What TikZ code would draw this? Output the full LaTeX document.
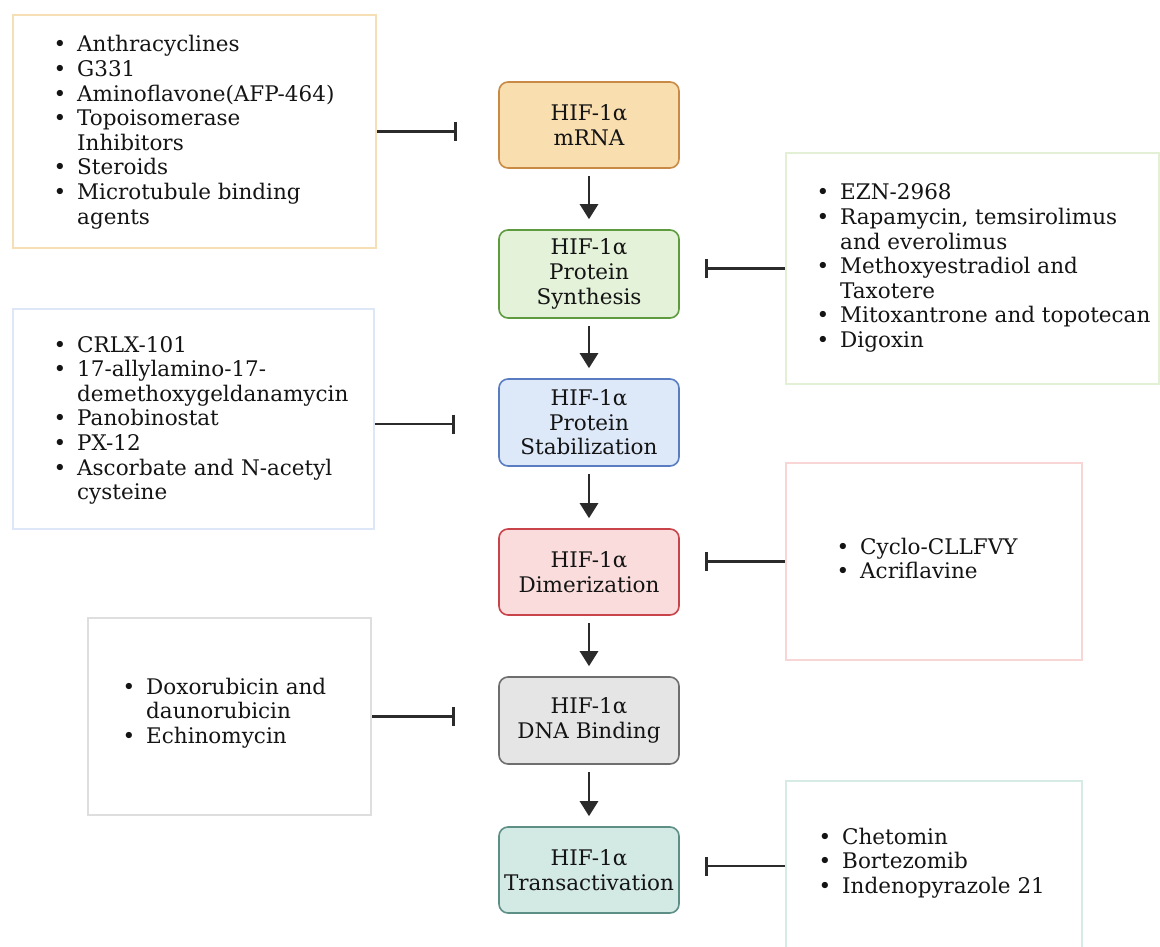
\documentclass[tikz,border=0pt]{standalone}
\usepackage{fontspec}
\setmainfont{DejaVu Serif}
\usetikzlibrary{arrows.meta}
\definecolor{cOrF}{HTML}{F9DEB0}\definecolor{cOrD}{HTML}{C98A45}\definecolor{cOrL}{HTML}{F6DFB5}
\definecolor{cGrF}{HTML}{E4F2D9}\definecolor{cGrD}{HTML}{5E9B3F}\definecolor{cGrL}{HTML}{E3F0D6}
\definecolor{cBlF}{HTML}{DDE8F9}\definecolor{cBlD}{HTML}{5A7DC2}\definecolor{cBlL}{HTML}{DDE7F8}
\definecolor{cRdF}{HTML}{FADCDC}\definecolor{cRdD}{HTML}{C9434A}\definecolor{cRdL}{HTML}{F8D6D6}
\definecolor{cGyF}{HTML}{E5E5E5}\definecolor{cGyD}{HTML}{6E6E6E}\definecolor{cGyL}{HTML}{DEDEDE}
\definecolor{cTlF}{HTML}{D3E9E4}\definecolor{cTlD}{HTML}{5E8F87}\definecolor{cTlL}{HTML}{D6EAE6}
\definecolor{ink}{HTML}{141414}
\definecolor{conn}{HTML}{2B2B2B}
\newcommand\bu{\llap{\textbullet\hspace{11pt}}}
\newcommand\fs{\fontsize{21.5}{24.6}\selectfont}
\begin{document}
\begin{tikzpicture}[x=1pt,y=-1pt,
  stage/.style={draw, line width=1.6pt, rounded corners=9pt, minimum width=180pt,
    align=center, font=\fs, inner sep=0pt, text=ink},
  drug/.style={draw, line width=2pt, fill=white, inner sep=0pt},
  lst/.style={anchor=base west, inner sep=0pt, font=\fs, text=ink},
  flow/.style={draw=conn, line width=2.6pt, -{Triangle[width=18pt,length=15pt]},
    shorten <=7pt, shorten >=10pt},
  inh/.style={draw=conn, line width=2.6pt, -{Bar[width=19pt,line width=2.6pt]}}]
\useasboundingbox (0,0) rectangle (1160,947);
\clip (0,0) rectangle (1160,947);
\fill[white] (0,0) rectangle (1160,947);

% stages
\node[stage, fill=cOrF, draw=cOrD, minimum height=86pt] (m)  at (589,125)   {HIF-1α\\mRNA};
\node[stage, fill=cGrF, draw=cGrD, minimum height=88pt] (s)  at (589,274)   {HIF-1α\\Protein\\Synthesis};
\node[stage, fill=cBlF, draw=cBlD, minimum height=87pt] (st) at (589,422.5) {HIF-1α\\Protein\\Stabilization};
\node[stage, fill=cRdF, draw=cRdD, minimum height=86pt] (d)  at (589,572)   {HIF-1α\\Dimerization};
\node[stage, fill=cGyF, draw=cGyD, minimum height=87pt] (b)  at (589,720.5) {HIF-1α\\DNA Binding};
\node[stage, fill=cTlF, draw=cTlD, minimum height=86pt] (t)  at (589,870)   {HIF-1α\\Transactivation};

\draw[flow] (m) -- (s);
\draw[flow] (s) -- (st);
\draw[flow] (st) -- (d);
\draw[flow] (d) -- (b);
\draw[flow] (b) -- (t);

% drug boxes
\node[drug, draw=cOrL, minimum width=363pt, minimum height=233pt] (L1) at (194.5,131.5) {};
\node[drug, draw=cGrL, minimum width=373pt, minimum height=231pt] (R1) at (972.5,268.5) {};
\node[drug, draw=cBlL, minimum width=361pt, minimum height=220pt] (L2) at (193.5,419) {};
\node[drug, draw=cRdL, minimum width=296pt, minimum height=197pt] (R2) at (934,561.5) {};
\node[drug, draw=cGyL, minimum width=283pt, minimum height=197pt] (L3) at (229.5,716.5) {};
\node[drug, draw=cTlL, minimum width=296pt, minimum height=174pt] (R3) at (934,868) {};

% lists
\node[lst] (tL1) at (77,52) {\begin{tabular}[t]{@{}l@{}}\bu Anthracyclines\\ \bu G331\\ \bu Aminoflavone(AFP-464)\\ \bu Topoisomerase\\ Inhibitors\\ \bu Steroids\\ \bu Microtubule binding\\ agents\end{tabular}};
\node[lst] (tR1) at (840,200) {\begin{tabular}[t]{@{}l@{}}\bu EZN-2968\\ \bu Rapamycin, temsirolimus\\ and everolimus\\ \bu Methoxyestradiol and\\ Taxotere\\ \bu Mitoxantrone and topotecan\\ \bu Digoxin\end{tabular}};
\node[lst] (tL2) at (77,352) {\begin{tabular}[t]{@{}l@{}}\bu CRLX-101\\ \bu 17-allylamino-17-\\ demethoxygeldanamycin\\ \bu Panobinostat\\ \bu PX-12\\ \bu Ascorbate and N-acetyl\\ cysteine\end{tabular}};
\node[lst] (tR2) at (860,554) {\begin{tabular}[t]{@{}l@{}}\bu Cyclo-CLLFVY\\ \bu Acriflavine\end{tabular}};
\node[lst] (tL3) at (146,694) {\begin{tabular}[t]{@{}l@{}}\bu Doxorubicin and\\ daunorubicin\\ \bu Echinomycin\end{tabular}};
\node[lst] (tR3) at (842,844) {\begin{tabular}[t]{@{}l@{}}\bu Chetomin\\ \bu Bortezomib\\ \bu Indenopyrazole 21\end{tabular}};

% inhibition connectors
\coordinate (i1) at (457,131.5);
\coordinate (i2) at (705,268.5);
\coordinate (i3) at (455,424);
\coordinate (i4) at (705,561.5);
\coordinate (i5) at (455,716.5);
\coordinate (i6) at (705,866);
\draw[inh] (L1.east) -- (i1);
\draw[inh] (R1.west) -- (i2);
\draw[inh] (L2.east |- i3) -- (i3);
\draw[inh] (R2.west) -- (i4);
\draw[inh] (L3.east) -- (i5);
\draw[inh] (R3.west |- i6) -- (i6);
\end{tikzpicture}
\end{document}
